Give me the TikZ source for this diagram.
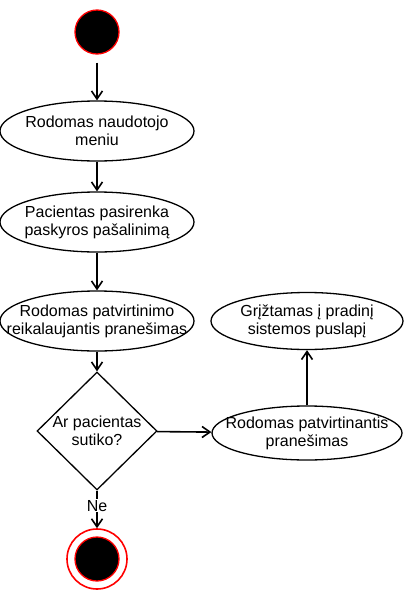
\documentclass[tikz,border=0pt]{standalone}
\usepackage{fontspec}
\setmainfont{Liberation Sans}
\usetikzlibrary{shapes.geometric,arrows.meta}
\begin{document}
\begin{tikzpicture}[x=1pt,y=-1pt,
  txt/.style={align=center,font=\fontsize{16}{18}\selectfont,inner sep=0pt},
  act/.style={draw,ellipse,line width=1.3pt,minimum width=194pt,minimum height=60pt,inner sep=0pt},
  dec/.style={draw,diamond,line width=1.3pt,minimum width=120pt,minimum height=118pt,inner sep=0pt},
  arr/.style={line width=1.6pt,-{Straight Barb[length=8pt,width=11pt,line width=1.6pt]}},
  startnode/.style={circle,fill=black,draw=red,line width=1.3pt,minimum size=44pt,inner sep=0pt},
  endring/.style={circle,fill=white,draw=red,line width=1.6pt,minimum size=60pt,inner sep=0pt},
  endcore/.style={circle,fill=black,draw=red,line width=1.3pt,minimum size=44pt,inner sep=0pt}]
\useasboundingbox (0,0) rectangle (404,592);

\node[startnode] (s) at (97,32) {};
\node[act,label={[txt]center:Rodomas naudotojo\\meniu}] (a1) at (97,131) {};
\node[act,label={[txt]center:Pacientas pasirenka\\paskyros pašalinimą}] (a2) at (97,222) {};
\node[act,label={[txt]center:Rodomas patvirtinimo\\reikalaujantis pranešimas}] (a3) at (97,321) {};
\node[dec,label={[txt]center:Ar pacientas\\sutiko?}] (d) at (97,431) {};
\node[act,minimum width=192pt,minimum height=57pt,label={[txt]center:Grįžtamas į pradinį\\sistemos puslapį}] (g) at (307,321) {};
\node[act,minimum width=190pt,minimum height=54pt,label={[txt]center:Rodomas patvirtinantis\\pranešimas}] (r) at (307,433) {};
\node[endring] (e) at (97,559) {};
\node[endcore] (ec) at (97,559) {};

\draw[arr,shorten <=8pt] (s) -- (a1);
\draw[arr] (a1) -- (a2);
\draw[arr] (a2) -- (a3);
\draw[arr] (a3) -- (d);
\draw[arr] (d) -- node[txt,fill=white,pos=0.4,inner sep=1pt] {Ne} (e);
\draw[arr] (d) -- (r);
\draw[arr] (r) -- (g);
\end{tikzpicture}
\end{document}
